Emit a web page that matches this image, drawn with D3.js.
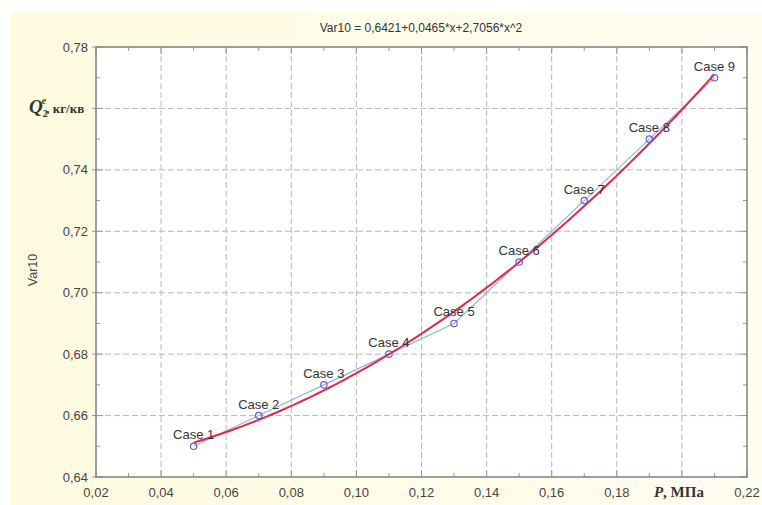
<!DOCTYPE html>
<html><head><meta charset="utf-8">
<script src="https://cdn.jsdelivr.net/npm/d3@7"></script>
<style>body{margin:0;background:#fff}svg{display:block}</style>
</head><body>
<svg id="c" width="762" height="505"></svg>
<script>
const caseLabels = ["Case 1","Case 2","Case 3","Case 4","Case 5","Case 6","Case 7","Case 8","Case 9"];
const xValues = [0.05,0.07,0.09,0.11,0.13,0.15,0.17,0.19,0.21];
const yValues = [0.65,0.66,0.67,0.68,0.69,0.71,0.73,0.75,0.77];
const fitCoef = [0.6421,0.0465,2.7056];
const xTicks = [0.02,0.04,0.06,0.08,0.10,0.12,0.14,0.16,0.18,0.20,0.22];
const yTicks = [0.64,0.66,0.68,0.70,0.72,0.74,0.76,0.78];
const titleText = "Var10 = 0,6421+0,0465*x+2,7056*x^2";

const svg = d3.select("#c");
const m = {l:96, r:747, t:47, b:477};
const x = d3.scaleLinear().domain([0.02,0.22]).range([m.l,m.r]);
const y = d3.scaleLinear().domain([0.64,0.78]).range([m.b,m.t]);

const defs = svg.append("defs");
const g1 = defs.append("linearGradient").attr("id","bg").attr("x1",0).attr("y1",0).attr("x2",1).attr("y2",0);
g1.append("stop").attr("offset","0").attr("stop-color","#fffbe0");
g1.append("stop").attr("offset","1").attr("stop-color","#fffdf0");
svg.append("rect").attr("x",10).attr("y",12).attr("width",752).attr("height",493).attr("fill","url(#bg)");
svg.append("rect").attr("x",m.l).attr("y",m.t).attr("width",m.r-m.l).attr("height",m.b-m.t).attr("fill","#fff");

// grid
const grid = svg.append("g");
grid.selectAll(".gx").data(xTicks.slice(1,-1)).enter().append("line")
  .attr("x1",d=>x(d)).attr("x2",d=>x(d)).attr("y1",m.t).attr("y2",m.b)
  .attr("stroke","#b8b8b8").attr("stroke-width",1).attr("stroke-dasharray","6,3");
grid.selectAll(".gy").data(yTicks.slice(1,-1)).enter().append("line")
  .attr("y1",d=>y(d)).attr("y2",d=>y(d)).attr("x1",m.l).attr("x2",m.r)
  .attr("stroke","#b8b8b8").attr("stroke-width",1).attr("stroke-dasharray","6,3");

// minor ticks
const xMinor = d3.range(0.03,0.22,0.02);
const yMinor = d3.range(0.65,0.78,0.02);
const tk = svg.append("g").attr("stroke","#999").attr("stroke-width",1);
xMinor.forEach(v=>{
  tk.append("line").attr("x1",x(v)).attr("x2",x(v)).attr("y1",m.b).attr("y2",m.b-4);
  tk.append("line").attr("x1",x(v)).attr("x2",x(v)).attr("y1",m.t).attr("y2",m.t+4);
});
yMinor.forEach(v=>{
  tk.append("line").attr("y1",y(v)).attr("y2",y(v)).attr("x1",m.l).attr("x2",m.l+4);
  tk.append("line").attr("y1",y(v)).attr("y2",y(v)).attr("x1",m.r).attr("x2",m.r-4);
});
xTicks.forEach(v=>{
  tk.append("line").attr("x1",x(v)).attr("x2",x(v)).attr("y1",m.b).attr("y2",m.b-7);
  tk.append("line").attr("x1",x(v)).attr("x2",x(v)).attr("y1",m.t).attr("y2",m.t+7);
});
yTicks.forEach(v=>{
  tk.append("line").attr("y1",y(v)).attr("y2",y(v)).attr("x1",m.l-4).attr("x2",m.l+7);
  tk.append("line").attr("y1",y(v)).attr("y2",y(v)).attr("x1",m.r).attr("x2",m.r-7);
});

// frame
svg.append("rect").attr("x",m.l).attr("y",m.t).attr("width",m.r-m.l).attr("height",m.b-m.t)
  .attr("fill","none").attr("stroke","#808080").attr("stroke-width",1.5);

// tick labels
const fmt = v => d3.format(".2f")(v).replace(".",",");
svg.append("g").selectAll("text").data(xTicks.filter(v=>Math.abs(v-0.20)>1e-9)).enter().append("text")
  .attr("x",d=>x(d)).attr("y",497).attr("text-anchor","middle")
  .attr("font-family","Liberation Sans, Arial, sans-serif").attr("font-size",13).attr("fill","#444")
  .text(fmt);
svg.append("g").selectAll("text").data(yTicks.filter(v=>Math.abs(v-0.76)>1e-9)).enter().append("text")
  .attr("x",88).attr("y",d=>y(d)+4.5).attr("text-anchor","end")
  .attr("font-family","Liberation Sans, Arial, sans-serif").attr("font-size",13).attr("fill","#444")
  .text(fmt);

// axis labels
const xl = svg.append("text").attr("x",x(0.20)-3).attr("y",497).attr("text-anchor","middle")
  .attr("font-family","Liberation Serif, Times New Roman, serif").attr("font-size",15).attr("font-weight","bold").attr("fill","#333");
xl.append("tspan").attr("font-style","italic").text("P");
xl.append("tspan").text(", МПа");

const yl = svg.append("text").attr("x",29).attr("y",y(0.76)+5)
  .attr("font-family","Liberation Serif, Times New Roman, serif").attr("font-weight","bold").attr("fill","#333");
yl.append("tspan").attr("font-size",19).attr("font-style","italic").text("Q");
yl.append("tspan").attr("font-size",10).attr("dy",4).text("2");
yl.append("tspan").attr("font-size",10).attr("dx",-6).attr("dy",-13).attr("font-style","italic").text("e");
yl.append("tspan").attr("font-size",13).attr("dy",9).text(", кг/кв");

svg.append("text").attr("transform","translate(37,270) rotate(-90)").attr("text-anchor","middle")
  .attr("font-family","Liberation Sans, Arial, sans-serif").attr("font-size",12.5).attr("fill","#444").text("Var10");

svg.append("text").attr("x",421).attr("y",32).attr("text-anchor","middle")
  .attr("font-family","Liberation Sans, Arial, sans-serif").attr("font-size",12).attr("fill","#333").text(titleText);

// data
const pts = xValues.map((v,i)=>({x:v,y:yValues[i],label:caseLabels[i]}));
svg.append("path").datum(pts)
  .attr("d",d3.line().x(d=>x(d.x)).y(d=>y(d.y)))
  .attr("fill","none").attr("stroke","#8fb4ee").attr("stroke-width",1.2);

const fitX = d3.range(0,101).map(i=>xValues[0]+(xValues[xValues.length-1]-xValues[0])*i/100);
svg.append("path").datum(fitX)
  .attr("d",d3.line().x(d=>x(d)).y(d=>y(fitCoef[0]+fitCoef[1]*d+fitCoef[2]*d*d)))
  .attr("fill","none").attr("stroke","#e0284a").attr("stroke-width",2);

svg.append("g").selectAll("circle").data(pts).enter().append("circle")
  .attr("cx",d=>x(d.x)).attr("cy",d=>y(d.y)).attr("r",3.2)
  .attr("fill","none").attr("stroke","#6b5bd6").attr("stroke-width",1.2);

svg.append("g").selectAll("text").data(pts).enter().append("text")
  .attr("x",d=>x(d.x)).attr("y",d=>y(d.y)-7).attr("text-anchor","middle")
  .attr("font-family","Liberation Sans, Arial, sans-serif").attr("font-size",13).attr("fill","#333")
  .text(d=>d.label);
</script>
</body></html>
